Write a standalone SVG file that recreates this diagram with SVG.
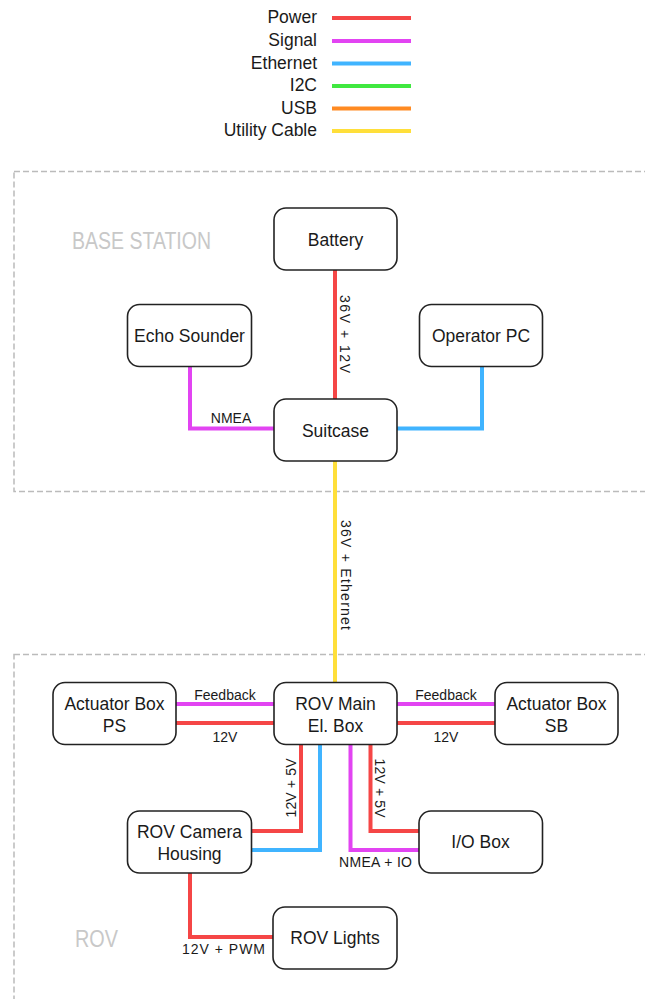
<svg xmlns="http://www.w3.org/2000/svg" width="645" height="999" viewBox="0 0 645 999">
<style>
  text { font-family: "Liberation Sans", Arial, sans-serif; fill: #1a1a1a; }
  .node rect { fill: #ffffff; stroke: #222222; stroke-width: 1.6; }
  .node text { font-size: 17.5px; text-anchor: middle; }
  .leg { font-size: 17.5px; text-anchor: end; }
  .lbl { font-size: 14px; text-anchor: middle; }
  .vlbl { font-size: 14px; text-anchor: middle; dominant-baseline: central; }
  .zone { fill: none; stroke: #bbbbbb; stroke-width: 1.5; stroke-dasharray: 6 3; }
  .zlabel { font-size: 23px; fill: #c8c8c8; }
  .w { fill: none; stroke-width: 4; stroke-linejoin: miter; stroke-linecap: butt; }
  .power { stroke: #f54646; }
  .signal { stroke: #e244f2; }
  .eth { stroke: #40b4ff; }
  .i2c { stroke: #40e840; }
  .usb { stroke: #ff8a22; }
  .util { stroke: #ffdf3a; }
</style>

<g id="legend">
  <text class="leg" x="317" y="23">Power</text>
  <line class="w power" x1="332" y1="18" x2="411" y2="18"/>
  <text class="leg" x="317" y="46">Signal</text>
  <line class="w signal" x1="332" y1="41" x2="411" y2="41"/>
  <text class="leg" x="317" y="68.5">Ethernet</text>
  <line class="w eth" x1="332" y1="63.5" x2="411" y2="63.5"/>
  <text class="leg" x="317" y="91">I2C</text>
  <line class="w i2c" x1="332" y1="86" x2="411" y2="86"/>
  <text class="leg" x="317" y="113.5">USB</text>
  <line class="w usb" x1="332" y1="108.5" x2="411" y2="108.5"/>
  <text class="leg" x="317" y="136">Utility Cable</text>
  <line class="w util" x1="332" y1="131" x2="411" y2="131"/>
</g>

<g id="zones">
  <rect class="zone" x="14" y="171.5" width="660" height="320"/>
  <text class="zlabel" x="72" y="248.5" textLength="139" lengthAdjust="spacingAndGlyphs">BASE STATION</text>
  <rect class="zone" x="14" y="654.5" width="660" height="400"/>
  <text class="zlabel" x="75" y="946.5" textLength="43" lengthAdjust="spacingAndGlyphs">ROV</text>
</g>

<g id="connectors">
  <line class="w power" x1="335" y1="270" x2="335" y2="399"/>
  <path class="w signal" d="M190,366.5 V428.5 H274"/>
  <path class="w eth" d="M397,428.5 H482 V366.5"/>
  <line class="w util" x1="335" y1="461" x2="335" y2="682.5"/>
  <line class="w signal" x1="176" y1="704" x2="274" y2="704"/>
  <line class="w power" x1="176" y1="723" x2="274" y2="723"/>
  <line class="w signal" x1="397" y1="704" x2="495" y2="704"/>
  <line class="w power" x1="397" y1="723" x2="495" y2="723"/>
  <path class="w power" d="M301,744.5 V831 H251.5"/>
  <path class="w eth" d="M320,744.5 V850 H251.5"/>
  <path class="w signal" d="M350.5,744.5 V850 H419"/>
  <path class="w power" d="M370.5,744.5 V831 H419"/>
  <path class="w power" d="M190,873 V937 H273"/>

  <text class="vlbl" transform="translate(345,334) rotate(90)" textLength="78">36V + 12V</text>
  <text class="lbl" x="231" y="423">NMEA</text>
  <text class="vlbl" transform="translate(346,575) rotate(90)" textLength="110">36V + Ethernet</text>
  <text class="lbl" x="225" y="699.5">Feedback</text>
  <text class="lbl" x="225" y="741.5">12V</text>
  <text class="lbl" x="446" y="699.5">Feedback</text>
  <text class="lbl" x="446" y="741.5">12V</text>
  <text class="vlbl" transform="translate(290.5,788) rotate(-90)" textLength="59">12V + 5V</text>
  <text class="vlbl" transform="translate(380,788) rotate(90)" textLength="59">12V + 5V</text>
  <text class="lbl" x="375.5" y="867" textLength="73">NMEA + IO</text>
  <text class="lbl" x="223.5" y="954" textLength="83">12V + PWM</text>
</g>

<g id="battery" class="node">
  <rect x="274" y="208" width="123" height="62" rx="12"/>
  <text x="335.5" y="245.5">Battery</text>
</g>
<g id="echo-sounder" class="node">
  <rect x="127.5" y="304.5" width="124" height="62" rx="12"/>
  <text x="189.5" y="342">Echo Sounder</text>
</g>
<g id="operator-pc" class="node">
  <rect x="419.5" y="304.5" width="123" height="62" rx="12"/>
  <text x="481" y="342">Operator PC</text>
</g>
<g id="suitcase" class="node">
  <rect x="274" y="399" width="123" height="62" rx="12"/>
  <text x="335.5" y="436.5">Suitcase</text>
</g>
<g id="actuator-box-ps" class="node">
  <rect x="53" y="682.5" width="123" height="62" rx="12"/>
  <text x="114.5" y="710">Actuator Box</text>
  <text x="114.5" y="732">PS</text>
</g>
<g id="rov-main-el-box" class="node">
  <rect x="274" y="682.5" width="123" height="62" rx="12"/>
  <text x="335.5" y="710">ROV Main</text>
  <text x="335.5" y="732">El. Box</text>
</g>
<g id="actuator-box-sb" class="node">
  <rect x="495" y="682.5" width="123" height="62" rx="12"/>
  <text x="556.5" y="710">Actuator Box</text>
  <text x="556.5" y="732">SB</text>
</g>
<g id="rov-camera-housing" class="node">
  <rect x="127.5" y="811" width="124" height="62" rx="12"/>
  <text x="189.5" y="838">ROV Camera</text>
  <text x="189.5" y="860">Housing</text>
</g>
<g id="io-box" class="node">
  <rect x="419" y="811" width="123.5" height="62" rx="12"/>
  <text x="480.5" y="848">I/O Box</text>
</g>
<g id="rov-lights" class="node">
  <rect x="273" y="907" width="124" height="62" rx="12"/>
  <text x="335" y="944">ROV Lights</text>
</g>
</svg>
